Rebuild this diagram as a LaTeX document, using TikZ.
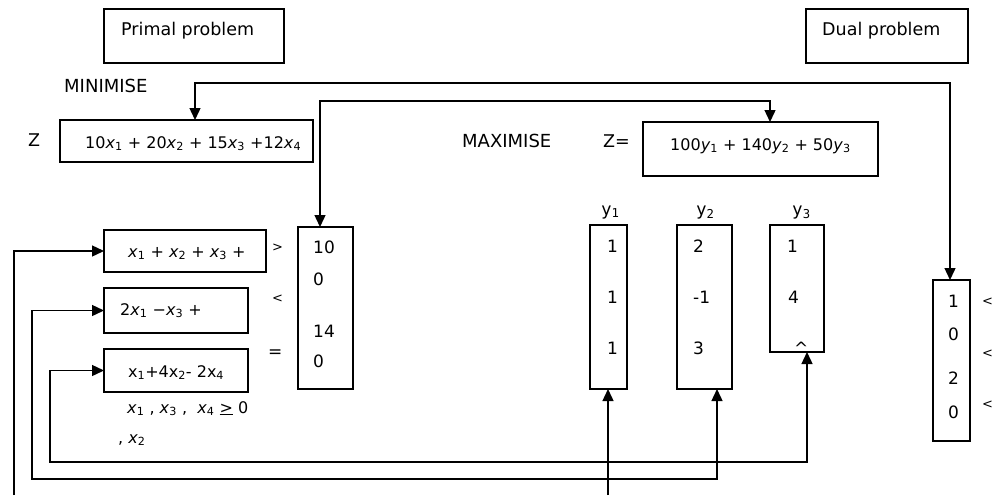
\documentclass[tikz,border=0pt]{standalone}
\usepackage{fontspec}
\setmainfont{DejaVu Sans}
\newfontfamily\monof{DejaVu Sans Mono}
\usetikzlibrary{arrows.meta}
\newcommand{\xv}[1]{\textit{x}\textsubscript{#1}}
\newcommand{\yv}[1]{\textit{y}\textsubscript{#1}}
\newcommand{\ym}[1]{y\textsubscript{#1}}
\begin{document}
\begin{tikzpicture}[x=1pt,y=-1pt,
  bx/.style={draw, line width=1.4pt, inner sep=0pt, outer sep=0pt},
  tl/.style={inner sep=0pt, anchor=base west, font=\fontsize{17.5}{20}\selectfont},
  eq/.style={inner sep=0pt, anchor=base west, font=\fontsize{16}{19}\selectfont},
  num/.style={inner sep=0pt, anchor=base west, font=\fontsize{17}{20}\selectfont},
  sg/.style={inner sep=0pt, anchor=base west, font=\fontsize{13}{15}\selectfont},
  yl/.style={inner sep=0pt, anchor=base west, font=\monof\fontsize{17.5}{20}\selectfont},
  tip/.style={-{Triangle[length=12pt,width=11pt]}, line width=1.4pt},
  both/.style={{Triangle[length=12pt,width=11pt]}-{Triangle[length=12pt,width=11pt]}, line width=1.4pt}]
\useasboundingbox (0,0) rectangle (992,495);
\fill[white] (0,0) rectangle (992,495);

% title boxes
\node[bx, minimum width=180pt, minimum height=54pt] (primal) at (194,36) {};
\node[tl] (tprimal) at (121,36) {Primal problem};
\node[bx, minimum width=162pt, minimum height=54pt] (dual) at (887,36) {};
\node[tl] (tdual) at (822,36) {Dual problem};

% objective rows
\node[tl, font=\fontsize{18}{20}\selectfont] (tmin) at (64,92) {MINIMISE};
\node[tl] (tz) at (28,146) {Z};
\node[bx, minimum width=253pt, minimum height=42pt] (zp) at (186.5,141) {};
\node[eq] (tzp) at (85,148) {10\xv1 + 20\xv2 + 15\xv3 +12\xv4};

\node[tl, font=\fontsize{18}{20}\selectfont] (tmax) at (462,147) {MAXIMISE};
\node[tl] (tzeq) at (603,147) {Z=};
\node[bx, minimum width=235pt, minimum height=54pt] (zd) at (760.5,149) {};
\node[eq] (tzd) at (670,150) {100\yv1 + 140\yv2 + 50\yv3};

% primal constraints
\node[bx, minimum width=162pt, minimum height=42pt] (c1) at (185,251) {};
\node[eq] (tc1) at (128,257) {\xv1 + \xv2 + \xv3 +};
\node[bx, minimum width=144pt, minimum height=45pt] (c2) at (176,310.5) {};
\node[eq] (tc2) at (120,315) {2\xv1 −\xv3 +};
\node[bx, minimum width=144pt, minimum height=43pt] (c3) at (176,370.5) {};
\node[eq] (tc3) at (128,377) {x\textsubscript{1}+4x\textsubscript{2}- 2x\textsubscript{4}};
\node[eq] (tnn) at (127,413) {\xv1 , \xv3 ,\ \ \xv4 \underline{>} 0};
\node[eq] (tnn2) at (118,443) {, \xv2};

% signs
\node[sg] (s1) at (272,251) {>};
\node[sg] (s2) at (272,302) {<};
\node[num] (s3) at (268,357) {=};

% primal rhs
\node[bx, minimum width=55pt, minimum height=162pt] (rhs) at (325.5,308) {};
\node[num] (r1) at (313,253) {10};
\node[num] (r2) at (313,285) {0};
\node[num] (r3) at (313,337) {14};
\node[num] (r4) at (313,367) {0};

% dual columns
\node[yl] (ly1) at (601,215) {\ym1};
\node[yl] (ly2) at (696,215) {\ym2};
\node[yl] (ly3) at (792,215) {\ym3};
\node[bx, minimum width=37pt, minimum height=164pt] (cy1) at (608.5,307) {};
\node[bx, minimum width=55pt, minimum height=164pt] (cy2) at (704.5,307) {};
\node[bx, minimum width=54pt, minimum height=127pt] (cy3) at (797,288.5) {};
\node[num] (a11) at (607,252) {1};
\node[num] (a12) at (607,303) {1};
\node[num] (a13) at (607,354) {1};
\node[num] (a21) at (693,252) {2};
\node[num] (a22) at (693,303) {-1};
\node[num] (a23) at (693,354) {3};
\node[num] (a31) at (787,252) {1};
\node[num] (a32) at (788,303) {4};
\node[num] (a33) at (794,354) {\^{}};

% dual rhs
\node[bx, minimum width=37pt, minimum height=161pt] (drhs) at (951.5,360.5) {};
\node[num] (d1) at (948,307) {1};
\node[num] (d2) at (948,340) {0};
\node[num] (d3) at (948,384) {2};
\node[num] (d4) at (948,418) {0};
\node[sg] (ds1) at (982,305) {<};
\node[sg] (ds2) at (982,357) {<};
\node[sg] (ds3) at (982,408) {<};

% connectors
\coordinate (k1) at (195,83);
\coordinate (k2) at (950,83);
\draw[both] (zp.north -| k1) -- (k1) -- (k2) -- (drhs.north -| k2);
\coordinate (k3) at (320,101);
\coordinate (k4) at (770,101);
\draw[both] (rhs.north -| k3) -- (k3) -- (k4) -- (zd.north -| k4);

\coordinate (a1) at (14,495);
\draw[tip] (a1) |- (c1.west);
\coordinate (a2) at (608,495);
\draw[tip] (a2) -- (cy1.south -| a2);

\coordinate (b1) at (32,479);
\coordinate (b2) at (717,479);
\draw[both] (c2.west) -| (b1) -- (b2) -- (cy2.south -| b2);

\coordinate (e1) at (50,462);
\coordinate (e2) at (807,462);
\draw[both] (c3.west) -| (e1) -- (e2) -- (cy3.south -| e2);
\end{tikzpicture}
\end{document}
